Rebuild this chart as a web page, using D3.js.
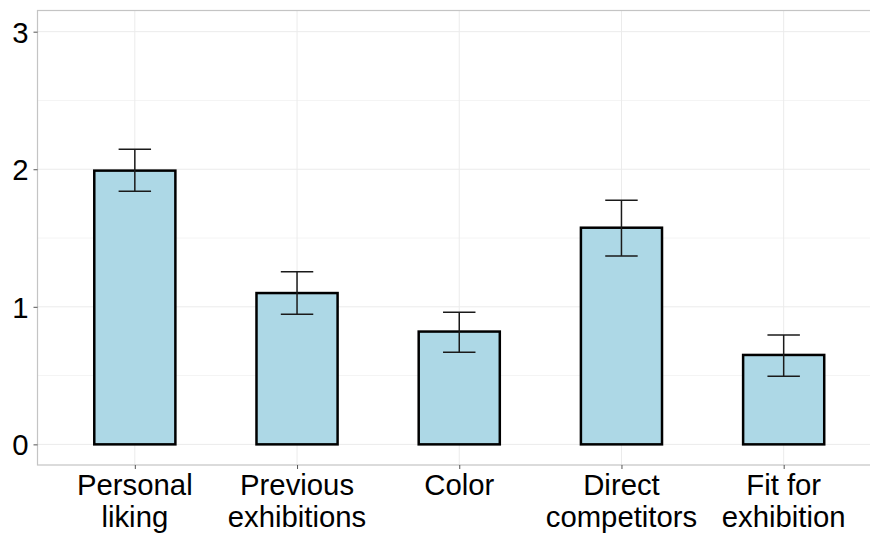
<!DOCTYPE html>
<html>
<head>
<meta charset="utf-8">
<script src="https://cdn.jsdelivr.net/npm/d3@7"></script>
<style>
  body { margin: 0; background: #fff; }
  svg { display: block; font-family: "Liberation Sans", Arial, sans-serif; }
</style>
</head>
<body>
<div id="chart"></div>
<script>
var categories = [["Personal", "liking"], ["Previous", "exhibitions"], ["Color"], ["Direct", "competitors"], ["Fit for", "exhibition"]];
var means = [1.99, 1.10, 0.82, 1.575, 0.65];
var lower = [1.84, 0.945, 0.67, 1.37, 0.495];
var upper = [2.145, 1.255, 0.96, 1.775, 0.795];
var yTicks = [0, 1, 2, 3];
var yMinor = [0.5, 1.5, 2.5];

var width = 870, height = 536;
var pLeft = 37.5, pTop = 10.5, pBottom = 465, pRight = 881;
var fontSize = 29.3;

var svg = d3.select('#chart').append('svg')
    .attr('width', width)
    .attr('height', height);

var idx = d3.range(categories.length);
var x = d3.scaleLinear().domain([0.4, 5.6]).range([pLeft, pRight]);
var y = d3.scaleLinear().domain([-0.15, 3.154]).range([pBottom, pTop]);

var panel = svg.append('g');

// minor grid
panel.selectAll('.minor').data(yMinor).enter().append('line')
    .attr('x1', pLeft).attr('x2', pRight)
    .attr('y1', d => y(d)).attr('y2', d => y(d))
    .attr('stroke', '#f4f4f4').attr('stroke-width', 1);

// major grid
panel.selectAll('.major').data(yTicks).enter().append('line')
    .attr('x1', pLeft).attr('x2', pRight)
    .attr('y1', d => y(d)).attr('y2', d => y(d))
    .attr('stroke', '#ebebeb').attr('stroke-width', 1);
panel.selectAll('.vgrid').data(idx).enter().append('line')
    .attr('x1', d => x(d + 1)).attr('x2', d => x(d + 1))
    .attr('y1', pTop).attr('y2', pBottom)
    .attr('stroke', '#ebebeb').attr('stroke-width', 1);

// bars
var bw = 0.5;
panel.selectAll('rect.bar').data(idx).enter().append('rect')
    .attr('x', d => x(d + 1 - bw / 2))
    .attr('width', d => x(d + 1 + bw / 2) - x(d + 1 - bw / 2))
    .attr('y', d => y(means[d]))
    .attr('height', d => y(0) - y(means[d]))
    .attr('fill', '#ADD8E6')
    .attr('stroke', '#000')
    .attr('stroke-width', 2.5);

// error bars
var cw = 0.1;
var eb = panel.selectAll('g.err').data(idx).enter().append('g')
    .attr('stroke', '#1a1a1a').attr('stroke-width', 1.5);
eb.append('line')
    .attr('x1', d => x(d + 1)).attr('x2', d => x(d + 1))
    .attr('y1', d => y(lower[d])).attr('y2', d => y(upper[d]));
eb.append('line')
    .attr('x1', d => x(d + 1 - cw)).attr('x2', d => x(d + 1 + cw))
    .attr('y1', d => y(upper[d])).attr('y2', d => y(upper[d]));
eb.append('line')
    .attr('x1', d => x(d + 1 - cw)).attr('x2', d => x(d + 1 + cw))
    .attr('y1', d => y(lower[d])).attr('y2', d => y(lower[d]));

// panel border
svg.append('rect')
    .attr('x', pLeft).attr('y', pTop)
    .attr('width', pRight - pLeft).attr('height', pBottom - pTop)
    .attr('fill', 'none').attr('stroke', '#c4c4c4').attr('stroke-width', 1.2);

// y axis
var yAxis = svg.append('g')
    .attr('transform', `translate(${pLeft},0)`)
    .call(d3.axisLeft(y).tickValues(yTicks).tickSize(4).tickPadding(4).tickFormat(d3.format('d')));
yAxis.select('.domain').remove();
yAxis.selectAll('.tick line').attr('stroke', '#555');
yAxis.selectAll('.tick text')
    .attr('font-size', fontSize).attr('fill', '#000')
    .attr('font-family', '"Liberation Sans", Arial, sans-serif')
    .attr('x', -9).attr('dy', null).attr('y', 10.5);

// x axis
var xAxis = svg.append('g')
    .attr('transform', `translate(0,${pBottom})`)
    .call(d3.axisBottom(x).tickValues(idx.map(d => d + 1)).tickSize(4).tickFormat(''));
xAxis.select('.domain').remove();
xAxis.selectAll('.tick line').attr('stroke', '#555');

svg.selectAll('text.xlab').data(idx).enter().append('text')
    .attr('class', 'xlab')
    .attr('transform', d => `translate(${x(d + 1)},494.5)`)
    .attr('text-anchor', 'middle')
    .attr('font-size', fontSize)
    .attr('fill', '#000')
    .selectAll('tspan').data(d => categories[d]).enter().append('tspan')
    .attr('x', 0)
    .attr('dy', (d, i) => i === 0 ? 0 : 32)
    .text(d => d);
</script>
</body>
</html>
